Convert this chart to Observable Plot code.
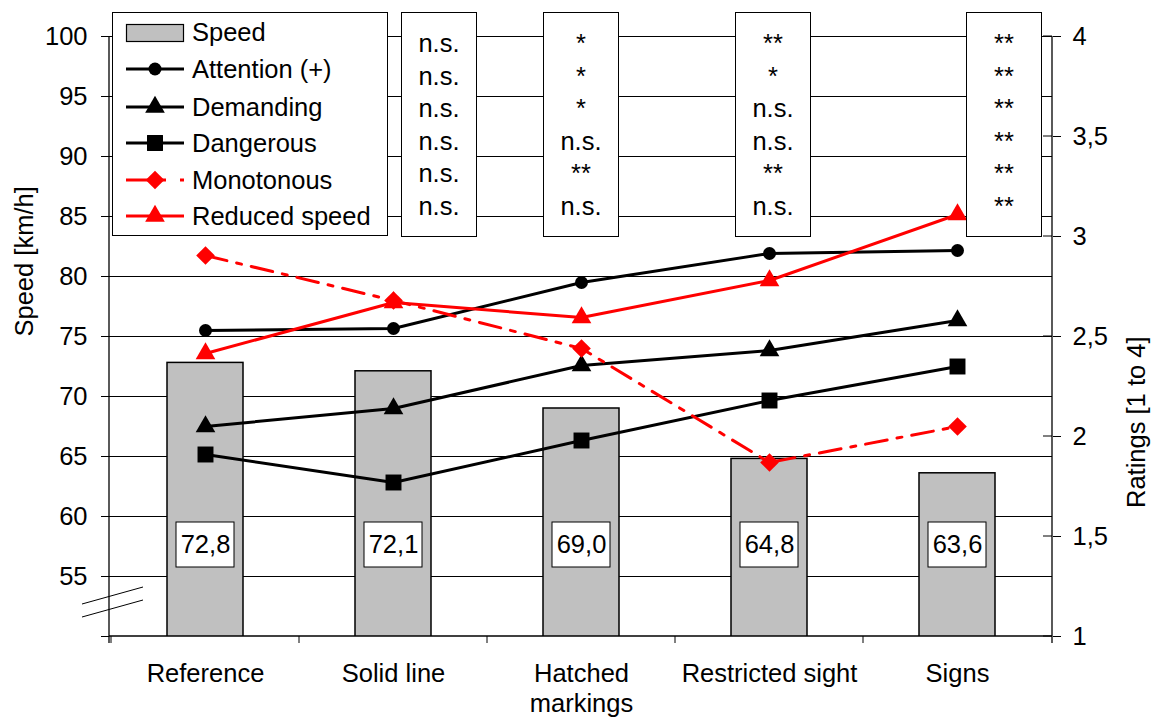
<!DOCTYPE html>
<html><head><meta charset="utf-8">
<script src="https://cdn.jsdelivr.net/npm/d3@7"></script>
<script src="https://cdn.jsdelivr.net/npm/@observablehq/plot@0.6"></script>
<style>body{margin:0;background:#fff}</style>
</head><body><div id="chart"></div>
<script>
// ---- data ----
const categories = ["Reference", "Solid line", "Hatched markings", "Restricted sight", "Signs"];
const speed = [72.8, 72.1, 69.0, 64.8, 63.6];
const attention = [2.53, 2.54, 2.77, 2.915, 2.93];
const demanding = [2.05, 2.14, 2.355, 2.43, 2.58];
const dangerous = [1.91, 1.77, 1.98, 2.18, 2.35];
const monotonous = [2.905, 2.68, 2.44, 1.87, 2.05];
const reducedSpeed = [2.415, 2.67, 2.595, 2.78, 3.11];
const speedTicks = [50, 55, 60, 65, 70, 75, 80, 85, 90, 95, 100];
const ratingTicks = [1, 1.5, 2, 2.5, 3, 3.5, 4];
const seriesNames = ["Attention (+)", "Demanding", "Dangerous", "Monotonous", "Reduced speed"];
const sigCategories = ["Solid line", "Hatched markings", "Restricted sight", "Signs"];
const sigSolid = ["n.s.", "n.s.", "n.s.", "n.s.", "n.s.", "n.s."];
const sigHatched = ["*", "*", "*", "n.s.", "**", "n.s."];
const sigRestricted = ["**", "*", "n.s.", "n.s.", "**", "n.s."];
const sigSigns = ["**", "**", "**", "**", "**", "**"];

// ---- helpers / styles ----
const toY = r => 50 + (r - 1) * 50 / 3;
const toR = y => 1 + (y - 50) * 3 / 50;
const comma = s => String(s).replace(".", ",");
const FONT = "'Liberation Sans', Arial, sans-serif";
const RED = "#ff0000";
const seriesValues = [attention, demanding, dangerous, monotonous, reducedSpeed];
const seriesStyle = [
  {color: "black", symbol: "circle", r: 6.5, dash: null},
  {color: "black", symbol: "triangle", r: 7.3, dash: null},
  {color: "black", symbol: "square", r: 9.0, dash: null},
  {color: RED, symbol: "diamond2", r: 8.4, dash: "22,10,5,10"},
  {color: RED, symbol: "triangle", r: 7.3, dash: null}
];
const sigOffsets = [46, 0, 4, 47];
const sigColumns = [sigSolid, sigHatched, sigRestricted, sigSigns];

const rows = categories.map((c, i) => ({category: c, speed: speed[i]}));

const lineMarks = seriesValues.flatMap((vals, k) => {
  const st = seriesStyle[k];
  return [
    Plot.line(categories, {x: d => d, y: (d, i) => toY(vals[i]), stroke: st.color, strokeWidth: 3,
      strokeDasharray: st.dash, strokeLinejoin: "round"}),
    Plot.dot(categories, {x: d => d, y: (d, i) => toY(vals[i]), symbol: st.symbol, r: st.r, fill: st.color, stroke: "none"})
  ];
});

const plot = Plot.plot({
  width: 1153, height: 718,
  marginLeft: 109, marginRight: 101, marginTop: 36, marginBottom: 82,
  x: {domain: categories, padding: 0, axis: null},
  y: {domain: [50, 100], axis: null},
  style: {fontFamily: FONT, fontSize: "25.5px", color: "black", background: "white", overflow: "visible"},
  marks: [
    Plot.ruleY(speedTicks.slice(1), {stroke: "black", strokeWidth: 1}),
    Plot.barY(rows, {x: "category", y: "speed", fill: "#c0c0c0", stroke: "black", strokeWidth: 1.5,
      insetLeft: 56, insetRight: 56, clip: true}),
    ...lineMarks,
    Plot.barY(rows, {x: "category", y1: 55.75, y2: 59.5, fill: "white", stroke: "black", strokeWidth: 1,
      insetLeft: 65, insetRight: 65}),
    Plot.text(rows, {x: "category", y: 57.63, text: d => comma(d.speed.toFixed(1)), fontSize: 25.5, fill: "black"}),
    Plot.axisY({anchor: "left", ticks: speedTicks, tickFormat: d => d === 50 ? "" : String(d),
      tickSize: 8, tickPadding: 14, label: null, stroke: "black"}),
    Plot.axisY({anchor: "right", ticks: ratingTicks.map(toY), tickFormat: d => comma(Math.round(toR(d) * 10) / 10),
      tickSize: 8, tickPadding: 12, label: null, stroke: "black"}),
    Plot.axisX({anchor: "bottom", tickSize: 0, tickPadding: 24, label: null, lineHeight: 1.17,
      tickFormat: d => d === "Hatched markings" ? "Hatched\nmarkings" : d}),
    Plot.text(["Speed [km/h]"], {frameAnchor: "left", dx: -85, rotate: -90, fontSize: 25.5}),
    Plot.text(["Ratings [1 to 4]"], {frameAnchor: "right", dx: 84, rotate: -90, fontSize: 25.5})
  ]
});
document.getElementById("chart").appendChild(plot);

// ---- post-drawing: frame, boundary ticks, break, significance boxes, legend ----
const svg = d3.select(plot);
const xs = plot.scale("x"), ys = plot.scale("y");
const bw = xs.bandwidth;
const [xL, xR] = xs.range;
const yTop = ys.apply(100), yBot = ys.apply(50);
const g = svg.append("g").attr("stroke", "black").attr("fill", "none");
g.append("line").attr("x1", xL).attr("x2", xL).attr("y1", yTop).attr("y2", yBot + 7).attr("stroke-width", 1.3);
g.append("line").attr("x1", xR).attr("x2", xR).attr("y1", yTop).attr("y2", yBot + 7).attr("stroke-width", 1.3);
g.append("line").attr("x1", xL).attr("x2", xR).attr("y1", yBot).attr("y2", yBot).attr("stroke-width", 1.3);
ratingTicks.forEach(r => {
  const y = ys.apply(toY(r));
  g.append("line").attr("x1", xR - 9).attr("x2", xR).attr("y1", y).attr("y2", y);
});
categories.forEach(c => {
  const x = xs.apply(c);
  g.append("line").attr("x1", x).attr("x2", x).attr("y1", yBot).attr("y2", yBot + 7);
});
const yb = ys.apply(53);
g.append("line").attr("x1", xL - 27).attr("y1", yb + 4).attr("x2", xL + 34).attr("y2", yb - 13);
g.append("line").attr("x1", xL - 27).attr("y1", yb + 17).attr("x2", xL + 34).attr("y2", yb);

// significance boxes
const sg = svg.append("g").attr("font-family", FONT).attr("font-size", 25.5).attr("text-anchor", "middle");
sigCategories.forEach((c, j) => {
  const cx = xs.apply(c) + bw / 2 + sigOffsets[j];
  sg.append("rect").attr("x", cx - 37.5).attr("y", 12.5).attr("width", 75).attr("height", 224)
    .attr("fill", "white").attr("stroke", "black").attr("stroke-width", 1);
  sigColumns[j].forEach((t, i) => {
    sg.append("text").attr("x", cx).attr("y", 52 + i * 32.5).text(t);
  });
});

// legend
const lg = svg.append("g").attr("font-family", FONT).attr("font-size", 25.5).attr("text-anchor", "start");
lg.append("rect").attr("x", 112.5).attr("y", 12.5).attr("width", 275).attr("height", 223)
  .attr("fill", "white").attr("stroke", "black").attr("stroke-width", 1);
lg.append("rect").attr("x", 126.5).attr("y", 24.5).attr("width", 57).attr("height", 17)
  .attr("fill", "#c0c0c0").attr("stroke", "black").attr("stroke-width", 1.2);
lg.append("text").attr("x", 192).attr("y", 41).text("Speed");
const legendY = [69, 107, 143, 180, 216];
const symMap = {circle: d3.symbolCircle, triangle: d3.symbolTriangle, square: d3.symbolSquare, diamond2: d3.symbolDiamond2};
seriesNames.forEach((name, k) => {
  const st = seriesStyle[k];
  const y = legendY[k];
  if (st.dash) {
    lg.append("line").attr("x1", 126).attr("x2", 166).attr("y1", y).attr("y2", y)
      .attr("stroke", st.color).attr("stroke-width", 3);
    lg.append("line").attr("x1", 180).attr("x2", 184).attr("y1", y).attr("y2", y)
      .attr("stroke", st.color).attr("stroke-width", 3);
  } else {
    lg.append("line").attr("x1", 126).attr("x2", 184).attr("y1", y).attr("y2", y)
      .attr("stroke", st.color).attr("stroke-width", 3);
  }
  lg.append("path").attr("transform", `translate(155,${y})`)
    .attr("d", d3.symbol(symMap[st.symbol], Math.PI * st.r * st.r)()).attr("fill", st.color);
  lg.append("text").attr("x", 192).attr("y", y + 9).text(name);
});
</script>
</body></html>
